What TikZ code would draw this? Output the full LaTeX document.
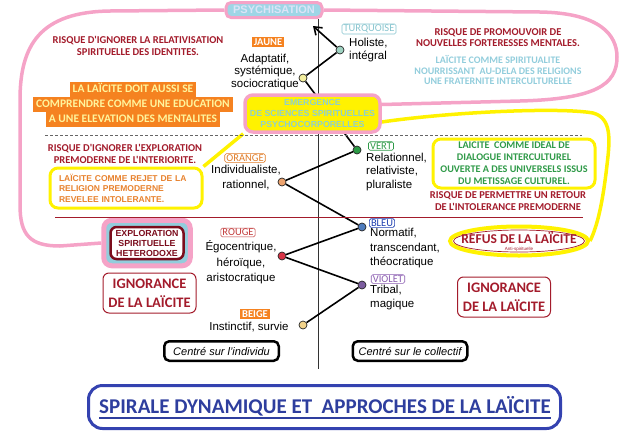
\documentclass[tikz,border=0pt]{standalone}
\usepackage{fontspec}
\setmainfont{Liberation Sans}
\newfontfamily\calibri{Carlito}
\usepackage{tikz}
\usetikzlibrary{positioning,arrows.meta,calc,fit,backgrounds,shapes.geometric}
\usepackage{xcolor}
\definecolor{pinkln}{HTML}{F5A3C7}
\definecolor{yelln}{HTML}{FFF200}
\definecolor{dred}{HTML}{A31B2B}
\definecolor{maroon}{HTML}{7B0C1C}
\definecolor{orfill}{HTML}{F58220}
\definecolor{oryel}{HTML}{FFF59D}
\definecolor{ltblue}{HTML}{92CDDC}
\definecolor{psyblue}{HTML}{9ED6E6}
\definecolor{psytxt}{HTML}{DCE4F7}
\definecolor{emtxt}{HTML}{8FD0CC}
\definecolor{ortxt}{HTML}{E8822E}
\definecolor{grn}{HTML}{2F9A48}
\definecolor{ttlbox}{HTML}{3442B0}
\definecolor{ttltxt}{HTML}{2E3E9E}
\definecolor{tturq}{HTML}{86C4CE}
\definecolor{tor}{HTML}{E07B26}
\definecolor{trouge}{HTML}{C23A3A}
\definecolor{tbleu}{HTML}{1F3FB0}
\definecolor{tviolet}{HTML}{8A5CB0}
\definecolor{cjaune}{HTML}{F3EE9E}
\definecolor{cturq}{HTML}{9FD3C2}
\definecolor{cvert}{HTML}{2C9A45}
\definecolor{corng}{HTML}{EDA36E}
\definecolor{cbleu}{HTML}{4E7BBD}
\definecolor{crouge}{HTML}{D83446}
\definecolor{cviolet}{HTML}{7B5C9E}
\definecolor{cbeige}{HTML}{F2D38A}
\pgfsetlayers{background,main}
\newcommand{\sz}[2]{\fontsize{#1}{#2}\selectfont}
\newcommand{\framebehind}[2]{%
  \begin{pgfonlayer}{background}
    \node[draw=pinkln, line width=5pt, fill=ltblue, rounded corners=8pt, inner sep=5.5pt, fit=#2] (#1) {};
  \end{pgfonlayer}}

\begin{document}
\begin{tikzpicture}[x=1pt, y=1pt, every node/.style={inner sep=0pt},
    desc/.style={font=\sz{11.5}{12.5}, align=center},
    descl/.style={font=\sz{11.5}{13.5}, align=left, anchor=west},
    tag/.style={draw=#1, text=#1, rounded corners=1.5pt, line width=0.6pt, inner xsep=1.6pt, inner ysep=0.9pt, font=\calibri\sz{10.5}{10.5}},
    tagfill/.style={fill=orfill, text=white, inner xsep=2pt, inner ysep=1.2pt, font=\calibri\bfseries\sz{10.5}{10.5}},
    dot/.style={circle, draw=black!85, line width=0.7pt, minimum size=8pt, fill=#1},
    risk/.style={text=dred, font=\calibri\bfseries\sz{10.5}{12}, align=center},
    edu/.style={fill=orfill, text=oryel, font=\calibri\bfseries\sz{11.5}{13}, inner xsep=3pt, inner ysep=1.5pt, text height=9pt, text depth=3pt},
    yelbox/.style={draw=yelln, line width=3pt, fill=white, rounded corners=8pt},
    ignbox/.style={draw=dred, line width=1pt, rounded corners=6pt, text=dred, font=\calibri\bfseries\sz{14.5}{19}, align=center, minimum width=93pt, minimum height=40pt},
    cbox/.style={draw=black, line width=2.5pt, rounded corners=5pt, minimum width=114.5pt, minimum height=19.5pt, font=\itshape\sz{11}{11}},
    pinkpath/.style={pinkln, line width=3.5pt},
    yelpath/.style={yelln, line width=3.5pt}]
  \useasboundingbox (0,0) rectangle (640,-437);

  \coordinate (axtop) at (318,-19);
  \coordinate (axbot) at (318,-369);
  \draw[line width=0.9pt, black!80] (axtop) -- (axbot);

  \node[dot=cjaune] (jaune) at (303,-78) {};
  \node[dot=cturq] (turq) at (340,-50) {};
  \node[dot=cvert] (vert) at (357,-150) {};
  \node[dot=corng] (orng) at (282,-182) {};
  \node[dot=cbleu] (bleu) at (362,-227) {};
  \node[dot=crouge] (rouge) at (282,-256) {};
  \node[dot=cviolet] (violet) at (362,-285) {};
  \node[dot=cbeige] (beige) at (303,-325) {};
  \coordinate (tip) at (313,-26);
  \draw[line width=1.6pt, -{Straight Barb[length=7pt,width=10pt]}]
    (beige) -- (violet) -- (rouge) -- (bleu) -- (orng) -- (vert) -- (jaune) -- (turq) -- (tip);

  \node[tagfill] (tjaune) at (268,-42) {JAUNE};
  \node[tag=tturq] (tturq) at (369,-29) {TURQUOISE};
  \node[tag=tor] (torng) at (245,-158) {ORANGE};
  \node[tag=grn] (tvert) at (381,-146) {VERT};
  \node[tag=trouge] (trouge) at (238,-232.5) {ROUGE};
  \node[tag=tbleu] (tbleu) at (382,-223) {BLEU};
  \node[tag=tviolet] (tviolet) at (388,-279) {VIOLET};
  \node[tagfill] (tbeige) at (255,-314) {BEIGE};

  \node[desc] (djaune) at (265,-72) {Adaptatif,\\systémique,\\sociocratique};
  \node[descl] (dturq) at (349,-50) {Holiste,\\intégral};
  \node[desc, font=\sz{11.5}{15}] (dorng) at (246,-177.5) {Individualiste,\\rationnel,};
  \node[descl] (dvert) at (366,-172) {Relationnel,\\relativiste,\\pluraliste};
  \node[desc, font=\sz{11.5}{15.5}] (drouge) at (241,-262.5) {Égocentrique,\\héroïque,\\aristocratique};
  \node[descl, font=\sz{11.5}{14.5}] (dbleu) at (370,-248.5) {Normatif,\\transcendant,\\théocratique};
  \node[descl, font=\sz{11.5}{14}] (dviolet) at (370,-298) {Tribal,\\magique};
  \node[desc] (dbeige) at (249,-327) {Instinctif, survie};

  \node[draw=pinkln, line width=3pt, fill=psyblue, rounded corners=5pt, minimum width=96pt, minimum height=15pt,
    text=psytxt, font=\bfseries\sz{11}{11}] (psy) at (274,-10) {PSYCHISATION};
  \node[draw=pinkln, line width=3.5pt, fill=yelln, rounded corners=8pt, minimum width=135pt, minimum height=37pt,
    text=emtxt, font=\bfseries\sz{8.8}{11}, align=center] (emerg) at (312.5,-113.5)
    {EMERGENCE\\DE SCIENCES SPIRITUELLES\\PSYCHOCORPORELLES};

  \node[risk] (risk1) at (138,-45.5) {RISQUE D'IGNORER LA RELATIVISATION\\SPIRITUELLE DES IDENTITES.};
  \node[risk, font=\calibri\bfseries\sz{10.5}{11.5}] (risk2) at (498,-37.5) {RISQUE DE PROMOUVOIR DE\\NOUVELLES FORTERESSES MENTALES.};
  \node[text=ltblue, font=\calibri\bfseries\sz{10}{10.5}, align=center] (spirit) at (498,-70)
    {LAÏCITE COMME SPIRITUALITE\\NOURRISSANT\ \ AU-DELA DES RELIGIONS\\UNE FRATERNITE INTERCULTURELLE};
  \node[edu] (edu1) at (133,-89) {LA LAÏCITE DOIT AUSSI SE};
  \node[edu, below=0pt of edu1] (edu2) {COMPRENDRE COMME UNE EDUCATION};
  \node[edu, below=0pt of edu2] (edu3) {A UNE ELEVATION DES MENTALITES};

  \coordinate (dashL) at (45,-135);
  \coordinate (dashR) at (582,-135);
  \draw[black!60, dash pattern=on 3pt off 2pt, line width=0.6pt] (dashL) -- (dashR);

  \node[risk] (risk3) at (125,-154) {RISQUE D'IGNORER L'EXPLORATION\\PREMODERNE DE L'INTERIORITE.};
  \node[yelbox, text=ortxt, font=\bfseries\sz{8.5}{10.5}, align=left, text width=134pt, inner xsep=9pt, minimum height=40pt] (lbox)
    at (126,-188) {LAÏCITE COMME REJET DE LA\\RELIGION PREMODERNE\\REVELEE INTOLERANTE.};
  \node[yelbox, text=grn, font=\calibri\bfseries\sz{10.2}{12}, align=center, minimum width=162pt, minimum height=49pt] (rbox)
    at (514,-163.5) {LAICITE\ \ COMME IDEAL DE\\DIALOGUE INTERCULTUREL\\OUVERTE A DES UNIVERSELS ISSUS\\DU METISSAGE CULTUREL.};
  \node[risk] (risk4) at (508,-201) {RISQUE DE PERMETTRE UN RETOUR\\DE L'INTOLERANCE PREMODERNE};

  \coordinate (redL) at (55,-217);
  \coordinate (redR) at (583,-217);
  \draw[dred, line width=0.8pt] (redL) -- (redR);

  \node[draw=maroon, line width=2.5pt, rounded corners=6pt, fill=white, minimum width=73pt, minimum height=32pt,
    text=maroon, font=\bfseries\sz{8.8}{10}, align=center] (explo) at (147,-243) {EXPLORATION\\SPIRITUELLE\\HETERODOXE};
  \framebehind{explofr}{(explo)}

  \node[ignbox] (ignL) at (149.5,-293) {IGNORANCE\\DE LA LAÏCITE};
  \node[ignbox] (ignR) at (504,-297) {IGNORANCE\\DE LA LAÏCITE};

  \node[ellipse, draw=yelln, line width=4pt, minimum width=138pt, minimum height=29pt] (refring) at (519,-241) {};
  \node[ellipse, draw=dred, line width=0.7pt, minimum width=131pt, minimum height=22pt] (refus) at (519,-241) {};
  \node[text=dred, font=\calibri\bfseries\sz{13.5}{13.5}] (reftxt) at (519,-238) {REFUS DE LA LAÏCITE};
  \node[text=dred, font=\sz{4.5}{5}] (refsub) at (519,-249.5) {Anti-spirituelle};

  \node[cbox] (indiv) at (221.5,-351) {Centré sur l'individu};
  \node[cbox] (collec) at (410,-351) {Centré sur le collectif};

  \node[draw=ttlbox, line width=3pt, rounded corners=14pt, minimum width=472pt, minimum height=43pt] (ttlfr) at (324.5,-407) {};
  \node[anchor=base, text=ttltxt, font=\calibri\bfseries\sz{21}{21}] (ttl) at (325,-413) {SPIRALE DYNAMIQUE ET\ \ APPROCHES DE LA LAÏCITE};
  \draw[ttltxt, line width=1.2pt] ($(ttl.base west)+(0,-5)$) -- ($(ttl.base east)+(0,-5)$);

  \coordinate (pkR) at ($(emerg.east)+(0,9)$);
  \coordinate (ylR) at ($(emerg.east)+(0,-8.5)$);
  \begin{pgfonlayer}{background}
    \draw[pinkpath] (psy.west) -- (110,-11) .. controls (40,-12) and (20,-45) .. (20,-100) -- (20,-205)
      .. controls (20,-235) and (30,-246) .. (60,-246) -- (explofr.west);
    \draw[pinkpath] (psy.east) -- (540,-12) .. controls (600,-13) and (617,-35) .. (617,-57)
      .. controls (617,-85) and (595,-99) .. (520,-101) -- (pkR);
    \draw[yelpath] (emerg.south west) -- (lbox.north east);
    \draw[yelpath] (ylR) .. controls (450,-112) and (560,-107) .. (593,-113)
      .. controls (612,-118) and (610,-140) .. (607,-165)
      .. controls (603,-200) and (598,-225) .. (refring.east);
  \end{pgfonlayer}
\end{tikzpicture}
\end{document}
